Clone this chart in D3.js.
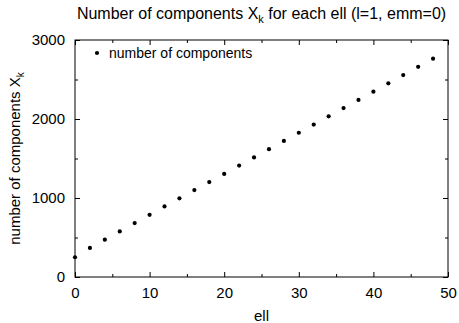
<!DOCTYPE html>
<html>
<head>
<meta charset="utf-8">
<script src="https://cdn.jsdelivr.net/npm/d3@7"></script>
<style>
  body { margin: 0; background: #fff; }
  text { font-family: "Liberation Sans", Arial, Helvetica, sans-serif; fill: #000; }
</style>
</head>
<body>
<div id="chart"></div>
<script>
// values
const ells = [0, 2, 4, 6, 8, 10, 12, 14, 16, 18, 20, 22, 24, 26, 28, 30, 32, 34, 36, 38, 40, 42, 44, 46, 48];
const counts = [250, 368, 473, 577, 682, 787, 893, 996, 1100, 1202, 1305, 1410, 1514, 1618, 1722, 1826, 1929, 2034, 2138, 2241, 2346, 2451, 2556, 2661, 2763];
const xTicks = [0, 10, 20, 30, 40, 50];
const xMinor = [5, 15, 25, 35, 45];
const yTicks = [0, 1000, 2000, 3000];
const yMinor = [500, 1500, 2500];

const width = 459, height = 323;
const margin = {top: 40, right: 11, bottom: 46, left: 75};

const svg = d3.select("#chart").append("svg")
    .attr("width", width)
    .attr("height", height);

const x = d3.scaleLinear().domain([0, 50]).range([margin.left, width - margin.right]);
const y = d3.scaleLinear().domain([0, 3000]).range([height - margin.bottom, margin.top]);

// inward ticks on all four sides, labels only bottom/left
function ticks(axis, values, size, labels) {
  return axis.tickValues(values).tickSizeInner(-size).tickSizeOuter(0)
    .tickFormat(labels ? d3.format("d") : "");
}

const axes = [
  [d3.axisBottom(x), xTicks, 5, true, `translate(0,${y(0)})`],
  [d3.axisBottom(x), xMinor, 3, false, `translate(0,${y(0)})`],
  [d3.axisTop(x), xTicks, 5, false, `translate(0,${y(3000)})`],
  [d3.axisTop(x), xMinor, 3, false, `translate(0,${y(3000)})`],
  [d3.axisLeft(y), yTicks, 5, true, `translate(${x(0)},0)`],
  [d3.axisLeft(y), yMinor, 3, false, `translate(${x(0)},0)`],
  [d3.axisRight(y), yTicks, 5, false, `translate(${x(50)},0)`],
  [d3.axisRight(y), yMinor, 3, false, `translate(${x(50)},0)`]
];

axes.forEach(([ax, vals, size, labels, tr], i) => {
  const g = svg.append("g").attr("transform", tr)
    .call(ticks(ax, vals, size, labels));
  g.select(".domain").remove();
  g.selectAll("line").attr("stroke", "#000");
  g.selectAll("text").attr("font-size", 15).attr("fill", "#000")
    .attr("font-family", "Liberation Sans, Arial, sans-serif");
  if (labels && i === 0) g.selectAll("text").attr("dy", 0).attr("y", 21);
  if (labels && i === 4) g.selectAll("text").attr("x", -10);
});

svg.append("rect")
    .attr("x", x(0)).attr("y", y(3000))
    .attr("width", x(50) - x(0)).attr("height", y(0) - y(3000))
    .attr("fill", "none").attr("stroke", "#000");

svg.append("g").selectAll("circle")
  .data(ells)
  .join("circle")
    .attr("cx", d => x(d))
    .attr("cy", (d, i) => y(counts[i]))
    .attr("r", 2.1)
    .attr("fill", "#000");

// legend
svg.append("circle").attr("cx", 97).attr("cy", 53).attr("r", 2.1).attr("fill", "#000");
svg.append("text").attr("x", 109).attr("y", 58).attr("font-size", 14).text("number of components");

// title
const title = svg.append("text")
    .attr("x", (x(0) + x(50)) / 2).attr("y", 19)
    .attr("text-anchor", "middle").attr("font-size", 16);
title.append("tspan").text("Number of components X");
title.append("tspan").attr("dy", 4).attr("font-size", 11).text("k");
title.append("tspan").attr("dy", -4).text(" for each ell (l=1, emm=0)");

// axis labels
svg.append("text")
    .attr("x", (x(0) + x(50)) / 2).attr("y", 321)
    .attr("text-anchor", "middle").attr("font-size", 15).text("ell");

const yl = svg.append("text")
    .attr("transform", `translate(20,${(y(0) + y(3000)) / 2}) rotate(-90)`)
    .attr("text-anchor", "middle").attr("font-size", 15);
yl.append("tspan").text("number of components X");
yl.append("tspan").attr("dy", 4).attr("font-size", 10).text("k");
</script>
</body>
</html>
